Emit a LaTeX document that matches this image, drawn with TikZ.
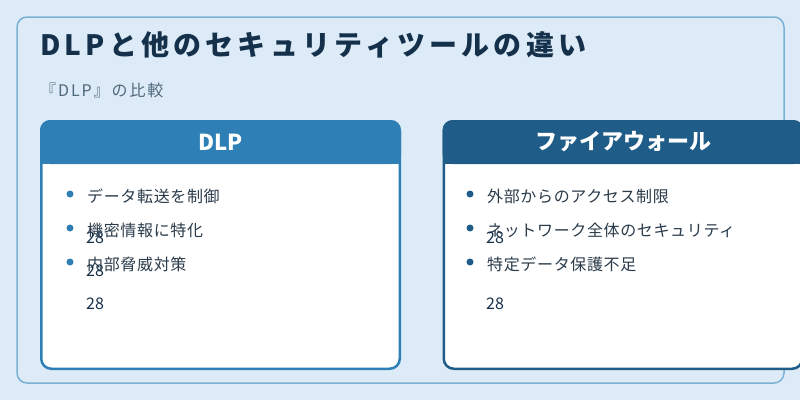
\documentclass[tikz,border=0pt]{standalone}
\usepackage{fontspec}
\setmainfont{Noto Sans CJK JP}
\usepackage{tikz}
\usetikzlibrary{positioning}
\definecolor{PageBg}{HTML}{DCEBF7}
\definecolor{PanelRule}{HTML}{7BB1D5}
\definecolor{DlpBlue}{HTML}{2E7FB5}
\definecolor{FwBlue}{HTML}{1F5C87}
\definecolor{Ink}{HTML}{15304A}
\definecolor{SubInk}{HTML}{50687B}
\definecolor{ItemInk}{HTML}{2B3B4A}

\begin{document}
\begin{tikzpicture}[x=1pt,y=-1pt,
  panel/.style={draw=PanelRule,line width=1.5pt,fill=PageBg,rounded corners=10pt,minimum width=767pt,minimum height=366pt,inner sep=0pt},
  card/.style={line width=2.5pt,fill=white,rounded corners=10pt,minimum width=358.5pt,minimum height=247.5pt,inner sep=0pt},
  head/.style={text=white,inner sep=0pt,font=\fontsize{22pt}{26pt}\selectfont\bfseries},
  item/.style={anchor=base west,inner sep=0pt,text=ItemInk,font=\fontsize{16pt}{19pt}\selectfont\addfontfeature{LetterSpace=4}},
  dot/.style={circle,inner sep=0pt,minimum size=7pt},
  stray/.style={anchor=base west,inner sep=0pt,text=Ink,font=\fontsize{16pt}{19pt}\selectfont}
]
  \path[use as bounding box,fill=PageBg] (0,0) rectangle (800,400);
  \node[panel] (panel) at (400.5,200) {};

  % title and subtitle
  \node[anchor=base west,inner sep=0pt,text=Ink,font=\fontsize{28pt}{32pt}\selectfont\bfseries\addfontfeature{LetterSpace=15}] (title) at (40,55) {DLPと他のセキュリティツールの違い};
  \node[anchor=base west,inner sep=0pt,text=SubInk,font=\fontsize{16pt}{19pt}\selectfont\addfontfeature{LetterSpace=12}] (subtitle) at (40,96) {『DLP』の比較};

  % DLP card
  \node[card,draw=DlpBlue] (dlp) at (220.5,245) {};
  \fill[DlpBlue,rounded corners=10pt] (dlp.north west) rectangle ([yshift=-44pt]dlp.north east);
  \fill[DlpBlue] ([yshift=-20pt]dlp.north west) rectangle ([yshift=-44pt]dlp.north east);
  \node[head] (dlphead) at ([yshift=-22pt]dlp.north) {DLP};
  \node[dot,fill=DlpBlue] (dlpdota) at (70,194) {};
  \node[dot,fill=DlpBlue] (dlpdotb) at (70,228) {};
  \node[dot,fill=DlpBlue] (dlpdotc) at (70,262) {};
  \node[item] (dlpa) at (87,202) {データ転送を制御};
  \node[item] (dlpb) at (87,236) {機密情報に特化};
  \node[item] (dlpc) at (87,270) {内部脅威対策};
  \node[stray] (dlpna) at (86,243) {28};
  \node[stray] (dlpnb) at (86,276) {28};
  \node[stray] (dlpnc) at (86,309) {28};

  % firewall card
  \node[card,draw=FwBlue,right=41.5pt of dlp] (fw) {};
  \fill[FwBlue,rounded corners=10pt] (fw.north west) rectangle ([yshift=-44pt]fw.north east);
  \fill[FwBlue] ([yshift=-20pt]fw.north west) rectangle ([yshift=-44pt]fw.north east);
  \node[head] (fwhead) at ([yshift=-22pt]fw.north) {ファイアウォール};
  \node[dot,fill=FwBlue] (fwdota) at (470,194) {};
  \node[dot,fill=FwBlue] (fwdotb) at (470,228) {};
  \node[dot,fill=FwBlue] (fwdotc) at (470,262) {};
  \node[item] (fwa) at (487,202) {外部からのアクセス制限};
  \node[item] (fwb) at (487,236) {ネットワーク全体のセキュリティ};
  \node[item] (fwc) at (487,270) {特定データ保護不足};
  \node[stray] (fwna) at (486,243) {28};
  \node[stray] (fwnc) at (486,309) {28};
\end{tikzpicture}
\end{document}
